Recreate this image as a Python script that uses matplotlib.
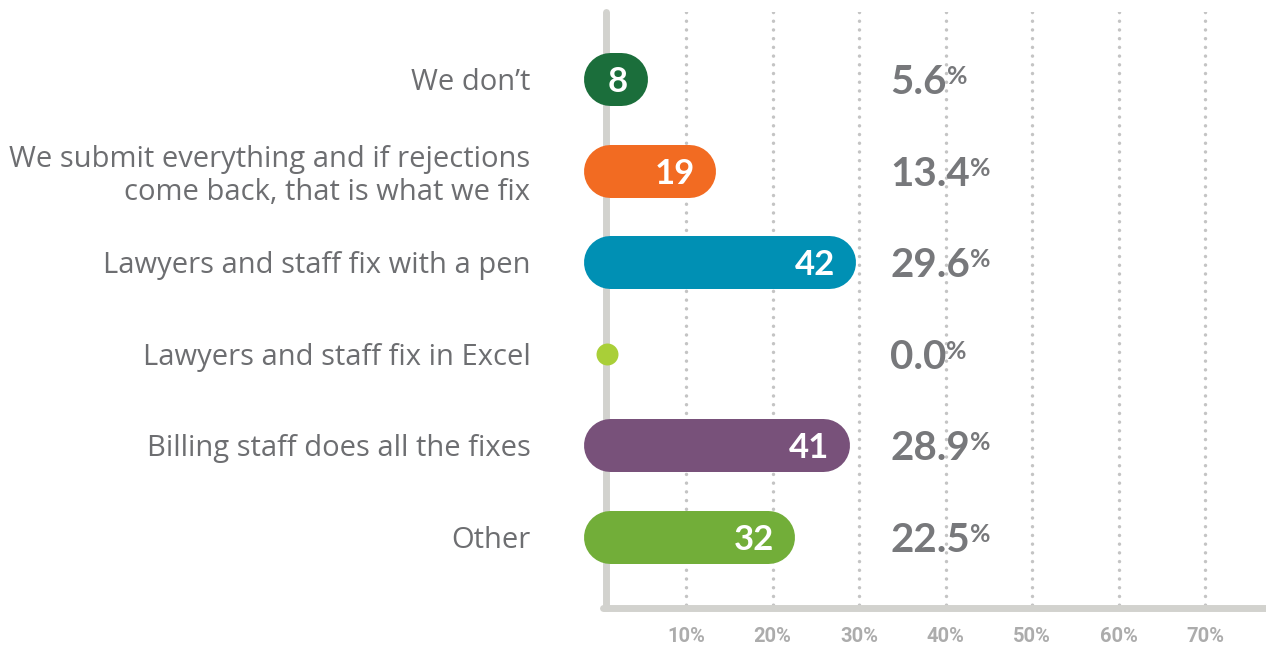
import numpy as np
import matplotlib.pyplot as plt

# data
categories = ["We don\u2019t",
              "We submit everything and if rejections\ncome back, that is what we fix",
              "Lawyers and staff fix with a pen",
              "Lawyers and staff fix in Excel",
              "Billing staff does all the fixes",
              "Other"]
counts = [8, 19, 42, 0, 41, 32]
percents = [5.6, 13.4, 29.6, 0.0, 28.9, 22.5]
colors = ["#1b6e3b", "#f26b22", "#0090b4", "#a9cf38", "#78517a", "#72ae39"]
xticks = [10, 20, 30, 40, 50, 60, 70]

W, H = 1266, 647
x0 = 599.5  # pixel of 0%
fig = plt.figure(figsize=(W / 100, H / 100), dpi=100)
ax = fig.add_axes([x0 / W, (H - 608) / H, (W - x0) / W, (608 - 12) / H])

px_per_pct = 8.65
xmax = (W - x0) / px_per_pct

# spines first (changing spine position resets tick styling)
for s in ["top", "right"]:
    ax.spines[s].set_visible(False)
ax.spines["left"].set_position(("data", (605.5 - x0) / px_per_pct))
ax.spines["bottom"].set_bounds((603 - x0) / px_per_pct, xmax)
for s in ["left", "bottom"]:
    ax.spines[s].set_color("#d2d2ce")
    ax.spines[s].set_linewidth(5)
    ax.spines[s].set_capstyle("round")

ax.set_xlim(0, xmax)
ax.set_ylim(5.775, -0.731)

# dotted gridlines
gl = ax.vlines(xticks, -0.731, 5.775, colors="#c4c4c4", lw=2.5,
               linestyles=[(0, (0.01, 2.5))], zorder=1)
gl.set_capstyle("round")

bar_h = 53  # px
cap = bar_h / 2 / px_per_pct  # cap radius in data units
left = (583 - x0) / px_per_pct + cap

for i, (c, p, col) in enumerate(zip(counts, percents, colors)):
    if p > 0:
        ax.plot([left, p - cap], [i, i], color=col, lw=bar_h * 0.72,
                solid_capstyle="round", zorder=3, clip_on=False)
        ax.annotate(str(c), xy=(p, i), xytext=(-20, 0), textcoords="offset pixels",
                    ha="right", va="center_baseline", color="white",
                    fontsize=25, fontweight="bold", family="Lato", zorder=4)
    else:
        ax.scatter([(607 - x0) / px_per_pct], [i], s=250, color=col, zorder=4,
                   clip_on=False, linewidths=0)
    t = ax.text((890 - x0) / px_per_pct, i, f"{p:.1f}", ha="left",
                va="center_baseline", color="#77787b", fontsize=29,
                fontweight="bold", family="Lato")
    ax.annotate("%", xy=(1, 1), xycoords=t, xytext=(0, -1), textcoords="offset pixels",
                ha="left", va="top", color="#77787b", fontsize=18,
                fontweight="bold", family="Lato")

ax.set_yticks(range(len(categories)))
ax.set_yticklabels(categories, fontsize=21, color="#6d6e71", family="Open Sans",
                   linespacing=1.2)
ax.tick_params(axis="y", length=0, pad=54)

ax.set_xticks(xticks)
ax.set_xticklabels([f"{v}%" for v in xticks], fontsize=14.5, color="#acacac",
                   fontweight="bold", family="Roboto")
ax.tick_params(axis="x", length=0, pad=14)

ax.set_facecolor("none")

fig.savefig("out.png", dpi=100)
